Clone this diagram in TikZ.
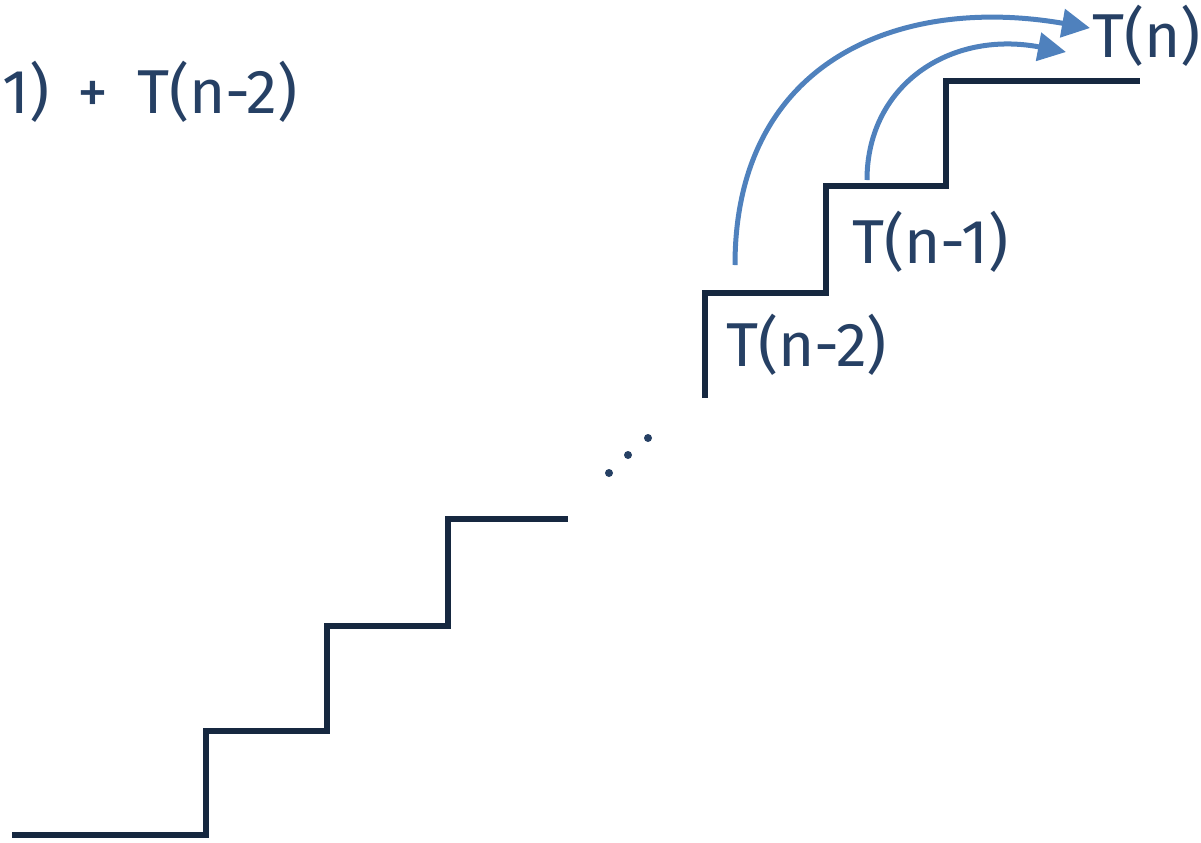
\documentclass[tikz,border=0pt]{standalone}
\usepackage{fontspec}
\setmainfont{Fira Sans}
\usetikzlibrary{arrows.meta}
\definecolor{stairnavy}{RGB}{22,40,64}
\definecolor{labelnavy}{RGB}{38,64,100}
\definecolor{hopblue}{RGB}{79,129,189}

\begin{document}
\begin{tikzpicture}[x=0.5pt,y=-0.5pt,
    stair/.style={draw=stairnavy,line width=2.8pt,line join=miter},
    hop/.style={draw=hopblue,line width=2.5pt,-{Triangle[length=14pt,width=14pt]}},
    lbl/.style={text=labelnavy,font=\fontsize{31}{36}\selectfont,inner sep=0pt}]
  \useasboundingbox (0,0) rectangle (1201,842);
  \clip (0,0) rectangle (1201,842);
  % lower flight
  \draw[stair] (12,835) -- (206,835) -- (206,731) -- (327,731) -- (327,626)
    -- (448,626) -- (448,519) -- (568,519);
  % upper flight
  \draw[stair] (705,398) -- (705,293) -- (826,293) -- (826,186) -- (946,186)
    -- (946,81) -- (1140,81);
  % ellipsis
  \foreach \x/\y in {609/473,628/455,648/438}
    \fill[labelnavy] (\x,\y) circle (2pt);
  % labels
  \node[lbl,anchor=east] (sum) at (298,92) {1)\hspace{6pt} + \hspace{6pt}T(n-2)};
  \node[lbl,anchor=west] (tn) at (1092,36) {T(n)};
  \node[lbl,anchor=west] (tn1) at (852,242) {T(n-1)};
  \node[lbl,anchor=west] (tn2) at (726,345) {T(n-2)};
  % jumps
  \coordinate (twostart) at (735,265);
  \coordinate (onestart) at (867,180);
  \coordinate (twoend) at (1090,28);
  \coordinate (oneend) at (1066,52);
  \draw[hop] (twostart) .. controls (735,60) and (900,-5) .. (twoend);
  \draw[hop] (onestart) .. controls (867,85) and (950,30) .. (oneend);
\end{tikzpicture}
\end{document}
